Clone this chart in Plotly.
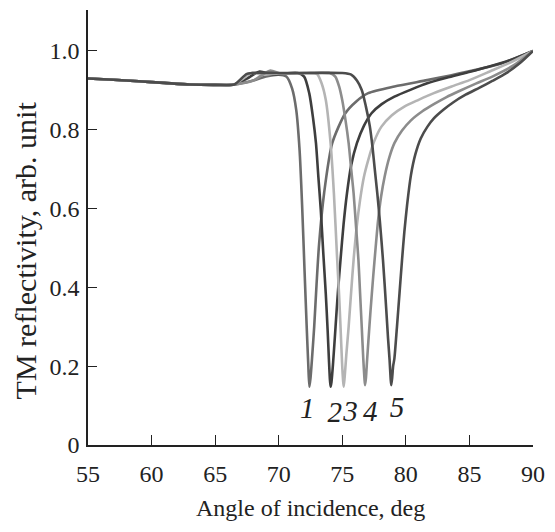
import plotly.graph_objects as go

# ---- data ----
c1_x = [55, 57, 59, 61, 63, 65, 66.5, 68, 69, 70, 70.6, 71.05, 71.38, 71.64, 71.85, 72.03, 72.2, 72.33, 72.41,
        72.5, 72.62, 72.79, 72.98, 73.18, 73.57, 74.21, 75.24, 76.1, 77.04, 79.1, 81.68, 83.5, 85.5, 87.5, 90]
c1_y = [0.930, 0.927, 0.923, 0.919, 0.915, 0.914, 0.915, 0.925, 0.935, 0.940, 0.935, 0.905, 0.85, 0.749, 0.60, 0.444, 0.30, 0.20, 0.148,
        0.17, 0.22, 0.30, 0.41, 0.512, 0.639, 0.766, 0.842, 0.872, 0.893, 0.910, 0.926, 0.938, 0.952, 0.968, 1.0]

c2_x = [55, 57, 59, 61, 63, 65, 66.5, 67.5, 68.5, 69.5, 70.5, 71.5, 72.0, 72.4, 72.7, 72.93, 73.12, 73.31, 73.5, 73.7,
        73.85, 73.95, 74.03, 74.08,
        74.15, 74.28, 74.47, 74.66, 74.86, 75.1, 75.37, 75.7, 76.15, 76.7, 77.3, 78.1, 79.1, 80.4, 81.68, 83.2, 84.77,
        86.5, 88.3, 90]
c2_y = [0.930, 0.927, 0.923, 0.919, 0.915, 0.914, 0.915, 0.930, 0.948, 0.940, 0.943, 0.944, 0.935, 0.893, 0.83, 0.766, 0.68, 0.596, 0.49, 0.385,
        0.29, 0.216, 0.165, 0.148,
        0.16, 0.21, 0.30, 0.39, 0.47, 0.56, 0.639, 0.71, 0.766, 0.81, 0.842, 0.865, 0.884, 0.902, 0.918, 0.932, 0.945,
        0.960, 0.978, 1.0]

c3_x = [55, 57, 59, 61, 63, 65, 66.5, 67.2, 67.9, 68.7, 70, 72, 73.0, 73.35, 73.7, 74.08, 74.34, 74.6, 74.75, 74.86,
        74.98, 75.06, 75.11,
        75.18, 75.32, 75.5, 75.7, 75.89, 76.12, 76.4, 76.7, 77.04, 77.5, 78.08, 78.9, 79.88, 81, 82.2, 83.6, 85.0,
        86.6, 88.3, 90]
c3_y = [0.930, 0.927, 0.923, 0.919, 0.915, 0.914, 0.915, 0.930, 0.945, 0.940, 0.943, 0.944, 0.942, 0.920, 0.876, 0.766, 0.639, 0.47, 0.38, 0.30,
        0.21, 0.165, 0.148,
        0.17, 0.23, 0.30, 0.39, 0.47, 0.55, 0.622, 0.68, 0.723, 0.77, 0.808, 0.837, 0.859, 0.876, 0.893, 0.910, 0.926,
        0.948, 0.972, 1.0]

c4_x = [55, 57, 59, 61, 63, 65, 66.5, 68, 69.3, 70.2, 72, 74, 74.45, 74.75, 74.99, 75.25, 75.5, 75.7, 75.89, 76.08,
        76.27, 76.4, 76.53, 76.65, 76.74, 76.79,
        76.86, 76.94, 77.04, 77.22, 77.43, 77.62, 77.82, 78.05, 78.33, 78.7, 79.1, 79.7, 80.4, 81.3, 82.2, 83.2,
        84.25, 85.5, 86.8, 88.4, 90]
c4_y = [0.930, 0.927, 0.923, 0.919, 0.915, 0.914, 0.915, 0.925, 0.950, 0.943, 0.944, 0.944, 0.935, 0.910, 0.876, 0.825, 0.766, 0.70, 0.639, 0.555,
        0.47, 0.385, 0.30, 0.22, 0.17, 0.152,
        0.17, 0.21, 0.258, 0.34, 0.427, 0.50, 0.571, 0.63, 0.681, 0.73, 0.766, 0.798, 0.824, 0.847, 0.865, 0.883,
        0.899, 0.917, 0.935, 0.962, 1.0]

c5_x = [55, 57, 59, 61, 63, 65, 66.5, 67.5, 68.5, 70, 72, 75, 75.7, 76.15, 76.53, 76.85, 77.17, 77.38, 77.56, 77.75,
        77.95, 78.2, 78.46, 78.6, 78.72, 78.8, 78.85,
        78.92, 79.0, 79.1, 79.3, 79.5, 79.7, 79.88, 80.1, 80.4, 80.75, 81.17, 81.7, 82.2, 83.0, 83.74, 84.7, 85.8,
        86.8, 87.86, 89, 90]
c5_y = [0.930, 0.927, 0.923, 0.919, 0.915, 0.914, 0.915, 0.942, 0.945, 0.944, 0.944, 0.944, 0.940, 0.925, 0.901, 0.86, 0.808, 0.755, 0.698, 0.64,
        0.57, 0.47, 0.343, 0.27, 0.216, 0.17, 0.152,
        0.17, 0.20, 0.22, 0.30, 0.385, 0.47, 0.54, 0.61, 0.685, 0.738, 0.778, 0.808, 0.829, 0.852, 0.870, 0.889, 0.907,
        0.924, 0.943, 0.970, 1.0]

curves = [(c1_x, c1_y), (c2_x, c2_y), (c3_x, c3_y), (c4_x, c4_y), (c5_x, c5_y)]
colors = ["#6c6c6c", "#3e3e3e", "#b4b4b4", "#8c8c8c", "#4c4c4c"]

label_text = ["1", "2", "3", "4", "5"]
label_x = [72.25, 74.4, 75.65, 77.2, 79.3]
label_y = [0.086, 0.076, 0.080, 0.080, 0.090]

x_ticks = [55, 60, 65, 70, 75, 80, 85, 90]
y_ticks = [0, 0.2, 0.4, 0.6, 0.8, 1.0]
y_ticktext = ["0", "0.2", "0.4", "0.6", "0.8", "1.0"]

FONT = "Liberation Serif, Times New Roman, serif"

fig = go.Figure()
for (xs, ys), col in zip(curves, colors):
    fig.add_trace(go.Scatter(x=xs, y=ys, mode="lines",
                             line=dict(color=col, width=2.6, shape="spline", smoothing=0.7),
                             showlegend=False, hoverinfo="skip"))

fig.add_trace(go.Scatter(x=label_x, y=label_y, mode="text", text=label_text,
                         textfont=dict(family=FONT, size=29, color="#222222", style="italic"),
                         showlegend=False, hoverinfo="skip"))

fig.update_layout(
    width=555, height=532,
    margin=dict(l=88, r=14, t=10, b=87),
    paper_bgcolor="white", plot_bgcolor="white",
    font=dict(family=FONT, color="#222222"),
    xaxis=dict(range=[55, 90], tickvals=x_ticks, ticks="inside", ticklen=10, tickwidth=1.3,
               tickcolor="#222222", showline=True, linecolor="#222222", linewidth=1.5,
               showgrid=False, zeroline=False, tickfont=dict(family=FONT, size=24, color="#222222"),
               ticklabelstandoff=6),
    yaxis=dict(range=[0, 1.104], tickvals=y_ticks, ticktext=y_ticktext, ticks="inside", ticklen=9,
               tickwidth=1.3, tickcolor="#222222", showline=True, linecolor="#222222", linewidth=1.5,
               showgrid=False, zeroline=False, tickfont=dict(family=FONT, size=24, color="#222222"),
               ticklabelstandoff=2),
    annotations=[
        dict(text="Angle of incidence, deg", xref="paper", yref="paper", x=0.499, y=-0.145,
             xanchor="center", yanchor="middle", showarrow=False,
             font=dict(family=FONT, size=24, color="#222222")),
        dict(text="TM reflectivity, arb. unit", xref="paper", yref="paper", x=-0.141, y=0.448,
             xanchor="center", yanchor="middle", textangle=-90, showarrow=False,
             font=dict(family=FONT, size=30, color="#222222")),
    ],
)

fig.write_html("out.html")
